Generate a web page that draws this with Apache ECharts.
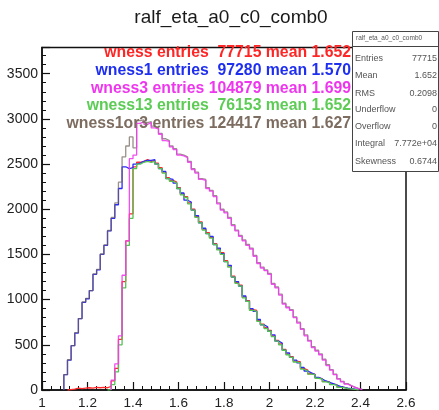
<!DOCTYPE html>
<html>
<head>
<meta charset="utf-8">
<script src="https://cdn.jsdelivr.net/npm/echarts@6/dist/echarts.min.js"></script>
<style>
html,body{margin:0;padding:0;background:#fff;}
#chart{width:439px;height:410px;}
</style>
</head>
<body>
<div id="chart"></div>
<script>
// Histogram: 100 bins from 1.0 to 2.6 (bin width 0.016); counts per bin from bin 0
const binLow = 1.0;
const binWidth = 0.016;

const wness = [0,0,0,0,0,0, 0,5,10,20,15,20,25,20,30,25, 30,25,40,100,240,560,1200,1650,1950,2470, 2520,2530,2550,2530,2540,2510,2460,2410,2350,2320, 2300,2240,2170,2140,2070,2000,1920,1860,1780,1740, 1690,1620,1560,1520,1430,1370,1260,1190,1160,1030, 990,890,880,770,730,690,660,600,550,510, 450,400,370,320,310,240,220,180,175,135, 125,95,90,65,60,35,30,18,15,8, 5,0];
const wness1 = [0,0,0,0,0,0, 170,330,490,630,790,970,1010,1100,1280,1330, 1500,1600,1760,1900,2050,2230,2470,2450,2460,2500, 2510,2530,2540,2540,2550,2500,2450,2420,2340,2330, 2290,2230,2180,2100,2080,1990,1930,1850,1790,1730, 1700,1610,1570,1510,1420,1380,1250,1200,1150,1040, 980,900,870,780,720,700,650,610,540,520, 440,410,360,330,300,250,210,190,170,140, 120,100,85,70,55,40,30,20,15,10, 5,0];
const wness3 = [0,0,0,0,0,0, 0,0,0,0,0,0,0,0,0,0, 0,0,0,110,290,600,1270,1650,2560,2600, 2950,2970,2940,2960,2900,2890,2830,2760,2750,2690, 2660,2600,2590,2570,2520,2440,2400,2330,2320,2230, 2200,2140,2060,1990,1960,1900,1820,1760,1700,1650, 1600,1560,1480,1400,1350,1320,1280,1170,1130,1050, 950,910,880,800,740,670,600,540,470,430, 390,330,270,220,170,120,90,65,45,30, 15,5];
const wness13 = [0,0,0,0,0,0, 0,0,0,0,0,0,0,0,0,0, 0,0,5,60,200,500,1130,1600,1900,2450, 2500,2520,2530,2520,2530,2500,2450,2400,2340,2310, 2290,2230,2160,2130,2060,1990,1910,1850,1770,1730, 1680,1610,1550,1500,1420,1360,1250,1180,1150,1020, 980,880,870,760,720,680,650,590,540,500, 440,390,360,310,300,230,210,175,170,130, 120,90,85,60,55,30,25,15,12,6, 3,0];
const wness1or3 = [0,0,0,0,0,0, 170,335,490,635,790,975,1015,1100,1285,1335, 1505,1605,1765,1910,2070,2300,2580,2700,2800,2680, 2980,2990,2960,2970,2920,2900,2840,2780,2760,2700, 2670,2610,2600,2580,2530,2450,2410,2340,2330,2240, 2210,2150,2070,2000,1970,1910,1830,1770,1710,1660, 1610,1570,1490,1410,1360,1330,1290,1180,1140,1060, 960,920,890,810,750,680,610,550,480,440, 400,340,280,225,175,125,95,70,48,32, 16,6];

const seriesNames = ['wness','wness1','wness3','wness13','wness1or3'];
const seriesEntries = ['77715','97280','104879','76153','124417'];
const seriesMeans = ['1.652','1.570','1.699','1.652','1.627'];
const lineColors = ['#ff2a2a','#2a2aff','#f03cf0','#52c452','#6f6158'];
const lineOpacity = [1, 1, 0.9, 1, 0.7];
const textColors = ['#ff2626','#1f2ff0','#ee36ee','#5ccc55','#7d6c60'];
const drawOrder = [0, 1, 3, 4, 2];

const statsTitle = 'ralf_eta_a0_c0_comb0';
const statsLabels = ['Entries','Mean','RMS','Underflow','Overflow','Integral','Skewness'];
const statsValues = ['77715','1.652','0.2098','0','0','7.772e+04','0.6744'];

const yTicks = [0,500,1000,1500,2000,2500,3000,3500];
const xTicks = [1,1.2,1.4,1.6,1.8,2,2.2,2.4,2.6];

function histPoints(counts){
  let first = counts.findIndex(v => v > 0);
  let last = -1;
  for (let i = counts.length-1; i >= 0; i--) if (counts[i] > 0) { last = i; break; }
  const pts = [];
  for (let k = first; k <= last; k++) pts.push([binLow + k*binWidth, counts[k]]);
  pts.push([binLow + (last+1)*binWidth, 0]);
  pts.unshift([binLow + first*binWidth, 0]);
  return pts;
}

const allCounts = [wness, wness1, wness3, wness13, wness1or3];

const chart = echarts.init(document.getElementById('chart'), null, {renderer:'canvas'});

const legendY = [54, 72, 89.5, 107, 124.5];
const graphics = [];
allCounts.forEach((c, i) => {
  const pad = seriesEntries[i].length < 6 ? '  ' : ' ';
  graphics.push({
    type:'text', z: 50, right: 439-351, top: legendY[i]-9,
    style:{ text: seriesNames[i] + ' entries' + pad + seriesEntries[i] + ' mean ' + seriesMeans[i],
      fill: textColors[i], font: 'bold 15.8px "Liberation Sans", Arial, sans-serif', textAlign:'right' }
  });
});
// stats box
graphics.push({ type:'rect', z: 100, shape:{x:352.5, y:31.5, width:86, height:140},
  style:{ fill:'#fff', stroke:'#444', lineWidth:1 } });
graphics.push({ type:'line', z: 101, shape:{x1:352.5, y1:46.5, x2:438.5, y2:46.5}, style:{stroke:'#444', lineWidth:1} });
graphics.push({ type:'text', z: 101, left: 356, top: 35,
  style:{ text: statsTitle, fill:'#555', font:'6.5px "Liberation Sans", Arial, sans-serif' } });
const rowY = [59, 76.5, 94, 110.5, 127.5, 144, 162];
statsLabels.forEach((l, i) => {
  graphics.push({ type:'text', z:101, left: 355, top: rowY[i]-5,
    style:{ text: l, fill:'#555', font:'9px "Liberation Sans", Arial, sans-serif' } });
  graphics.push({ type:'text', z:101, right: 2, top: rowY[i]-5,
    style:{ text: statsValues[i], fill:'#555', font:'9px "Liberation Sans", Arial, sans-serif', textAlign:'right' } });
});

const option = {
  animation: false,
  backgroundColor: '#fff',
  title: {
    text: 'ralf_eta_a0_c0_comb0', left: 226, top: 3, textAlign: 'center',
    textStyle: { fontFamily: '"Liberation Sans", Arial, sans-serif', fontWeight: 'normal', fontSize: 19, color: '#1a1a1a' }
  },
  grid: { left: 42, top: 47.5, width: 364, height: 345.5, show: true, borderColor: '#111', borderWidth: 1.5, backgroundColor: 'transparent' },
  xAxis: {
    type: 'value', min: 1, max: 2.6, interval: 0.2,
    axisLine: { show: true, lineStyle: { color: '#111', width: 1.5 } },
    axisTick: { show: true, inside: true, length: 8, lineStyle: { color: '#111', width: 1.2 } },
    minorTick: { show: true, splitNumber: 5, length: 4, lineStyle: { color: '#111', width: 1 } },
    splitLine: { show: false },
    axisLabel: { color: '#222', fontSize: 13.5, margin: 6, fontFamily: '"Liberation Sans", Arial, sans-serif',
      formatter: v => { const t = xTicks.find(x => Math.abs(x - v) < 1e-6); return t === undefined ? '' : String(t); } }
  },
  yAxis: {
    type: 'value', min: 0, max: 3790, interval: 500,
    axisLine: { show: true, lineStyle: { color: '#111', width: 1.5 } },
    axisTick: { show: true, inside: true, length: 8, lineStyle: { color: '#111', width: 1.2 } },
    minorTick: { show: true, splitNumber: 5, length: 4, lineStyle: { color: '#111', width: 1 } },
    splitLine: { show: false },
    axisLabel: { color: '#222', fontSize: 14, margin: 4, showMaxLabel: false, fontFamily: '"Liberation Sans", Arial, sans-serif',
      formatter: v => (yTicks.indexOf(v) >= 0 ? String(v) : '') }
  },
  graphic: graphics,
  series: drawOrder.map((i, n) => ({
    name: seriesNames[i], type: 'line', step: 'end', data: histPoints(allCounts[i]),
    showSymbol: false, symbol: 'none', z: 2 + n,
    lineStyle: { color: lineColors[i], width: 1.3, opacity: lineOpacity[i] }
  }))
};
chart.setOption(option);
</script>
</body>
</html>
